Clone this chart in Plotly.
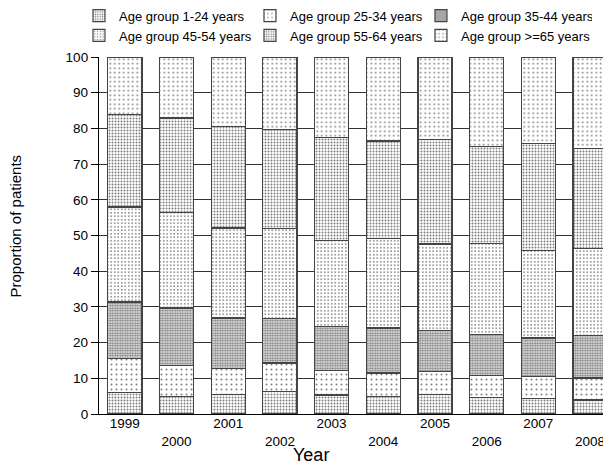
import plotly.graph_objects as go

years = ["1999", "2000", "2001", "2002", "2003", "2004", "2005", "2006", "2007", "2008"]
tick_labels = ["1999", "<br>2000", "2001", "<br>2002", "2003", "<br>2004", "2005", "<br>2006", "2007", "<br>2008"]

group_names = ["Age group 1-24 years", "Age group 25-34 years", "Age group 35-44 years",
               "Age group 45-54 years", "Age group 55-64 years", "Age group >=65 years"]

age_1_24 = [6.1, 4.8, 5.5, 6.2, 5.3, 5.0, 5.5, 4.7, 4.4, 3.9]
age_25_34 = [9.4, 8.7, 7.3, 8.1, 6.8, 6.5, 6.4, 6.0, 6.2, 6.2]
age_35_44 = [15.9, 16.2, 14.1, 12.5, 12.3, 12.6, 11.6, 11.6, 10.7, 11.9]
age_45_54 = [26.6, 26.8, 25.2, 25.2, 24.3, 25.0, 24.1, 25.5, 24.6, 24.4]
age_55_64 = [25.8, 26.4, 28.4, 27.6, 28.7, 27.4, 29.4, 27.2, 29.8, 28.0]
age_65_up = [16.2, 17.1, 19.5, 20.4, 22.6, 23.5, 23.0, 25.0, 24.3, 25.6]

series = [age_1_24, age_25_34, age_35_44, age_45_54, age_55_64, age_65_up]
patterns = [
    dict(shape=".", size=3, solidity=0.35),
    dict(shape=".", size=5, solidity=0.12),
    dict(shape=".", size=2.5, solidity=0.65),
    dict(shape=".", size=3.5, solidity=0.2),
    dict(shape=".", size=3, solidity=0.35),
    dict(shape=".", size=4.5, solidity=0.14),
]

FONT = "Liberation Sans, Arial, sans-serif"

fig = go.Figure()
for name, vals, pat in zip(group_names, series, patterns):
    fig.add_trace(go.Bar(
        x=list(range(len(years))), y=vals, name=name,
        marker=dict(color="white",
                    pattern=dict(fgcolor="black", bgcolor="white", fillmode="overlay", **pat),
                    line=dict(color="#444444", width=1.2)),
    ))

fig.update_layout(
    template="none",
    width=611, height=467,
    barmode="stack", bargap=0.34,
    plot_bgcolor="white", paper_bgcolor="white",
    font=dict(family=FONT, size=13, color="black"),
    margin=dict(l=91, r=0, t=49, b=61, autoexpand=False),
    showlegend=True,
    legend=dict(orientation="h", x=-0.0385, xanchor="left", xref="paper",
                y=1.158, yref="paper", yanchor="top",
                entrywidth=126, entrywidthmode="pixels",
                font=dict(size=13, family=FONT), traceorder="normal",
                bgcolor="rgba(0,0,0,0)", borderwidth=0),
    xaxis=dict(range=[-0.5, 9.56], tickmode="array", tickvals=list(range(len(years))),
               ticktext=tick_labels, showline=True, linecolor="black", linewidth=1.3,
               ticks="", showgrid=False, zeroline=False, tickfont=dict(size=13.5),
               ticklabelstandoff=-3, automargin=False),
    yaxis=dict(range=[0, 100], tickmode="array", tickvals=list(range(0, 101, 10)),
               showline=True, linecolor="black", linewidth=1.3,
               ticks="outside", ticklen=7, tickcolor="black", tickwidth=1.3,
               showgrid=True, gridcolor="#333333", gridwidth=1.3, zeroline=False,
               tickfont=dict(size=13.5), automargin=False),
    annotations=[
        dict(text="Year", x=0, xref="paper", y=0, yref="paper", xanchor="center", yanchor="middle",
             xshift=212, yshift=-41, showarrow=False, font=dict(size=18, family=FONT)),
        dict(text="Proportion of patients", x=0, xref="paper", y=0.5, yref="paper",
             xanchor="center", yanchor="middle", textangle=-90, xshift=-84, yshift=9,
             showarrow=False, font=dict(size=15, family=FONT)),
    ],
)

fig.write_html("out.html")
